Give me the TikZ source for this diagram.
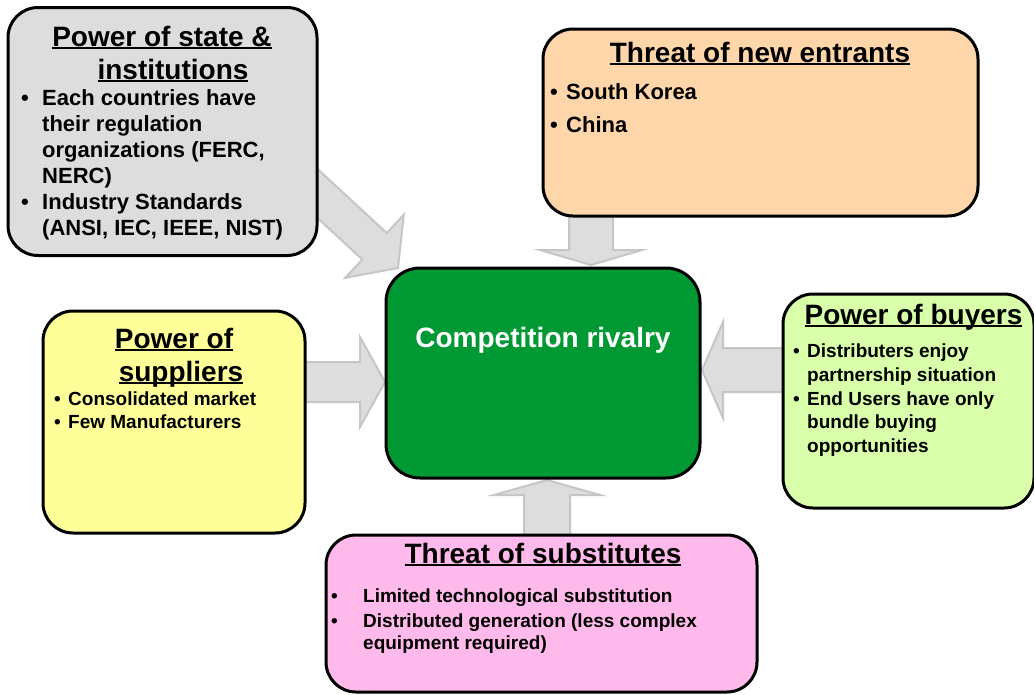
\documentclass[tikz,border=0pt]{standalone}
\usepackage{fontspec}
\setmainfont{Liberation Sans}
\usetikzlibrary{calc}
\definecolor{stategray}{HTML}{DDDDDD}
\definecolor{peach}{HTML}{FFD5AA}
\definecolor{lyellow}{HTML}{FFFF99}
\definecolor{lgreen}{HTML}{D9FFAA}
\definecolor{lpink}{HTML}{FFB9EA}
\definecolor{dgreen}{HTML}{009933}
\definecolor{arrowfill}{HTML}{DDDDDD}
\definecolor{arrowline}{HTML}{C6C6C6}
\newcommand\ulin[1]{\setbox0\hbox{#1}\rlap{\rule[-3.4pt]{\wd0}{2.2pt}}\box0}
\newcommand\blockarrow[6]{%
  \coordinate (#1b) at ($(#3)!#6!(#2)$);
  \draw[flow] ($(#2)!#4!90:(#3)$) -- ($(#1b)!#4!90:(#3)$) -- ($(#1b)!#5!90:(#3)$) -- (#3)
    -- ($(#1b)!#5!-90:(#3)$) -- ($(#1b)!#4!-90:(#3)$) -- ($(#2)!#4!-90:(#3)$) -- cycle;}
\begin{document}
\begin{tikzpicture}[x=1pt,y=-1pt,
  box/.style={draw=black, line width=3pt, rounded corners=30pt, inner sep=0pt},
  flow/.style={fill=arrowfill, draw=arrowline, line width=2pt, line join=miter},
  title/.style={font=\fontsize{28}{33}\selectfont\bfseries, inner sep=0pt, anchor=base},
  bodyL/.style={font=\fontsize{22}{26}\selectfont\bfseries, inner sep=0pt, anchor=base west},
  bodyS/.style={font=\fontsize{19}{22}\selectfont\bfseries, inner sep=0pt, anchor=base west}]
\clip (0,0) rectangle (1034,694);
\fill[white] (0,0) rectangle (1034,694);

% arrow end points
\coordinate (aS) at (290,168);  \coordinate (aT) at (398,268);
\coordinate (bS) at (591,200);  \coordinate (bT) at (591,265);
\coordinate (cS) at (290,382);  \coordinate (cT) at (385,382);
\coordinate (dS) at (800,370);  \coordinate (dT) at (702,370);
\coordinate (eS) at (547,550);  \coordinate (eT) at (547,480);

% block arrows
\blockarrow{a}{aS}{aT}{18pt}{43pt}{32pt}
\blockarrow{b}{bS}{bT}{22pt}{51pt}{15pt}
\blockarrow{c}{cS}{cT}{20pt}{45pt}{25pt}
\blockarrow{d}{dS}{dT}{22pt}{48pt}{21pt}
\blockarrow{e}{eS}{eT}{23pt}{53pt}{15pt}

% boxes
\node[box, fill=stategray, minimum width=309pt, minimum height=248pt] (state) at (162.5,131.5) {};
\node[box, fill=peach, minimum width=435pt, minimum height=187pt] (entr) at (760.5,122.5) {};
\node[box, fill=dgreen, minimum width=314pt, minimum height=210pt, rounded corners=34pt] (comp) at (543,373) {};
\node[box, fill=lyellow, minimum width=262pt, minimum height=222pt] (supp) at (174,422) {};
\node[box, fill=lgreen, minimum width=251pt, minimum height=214pt] (buy) at (908.5,401) {};
\node[box, fill=lpink, minimum width=431pt, minimum height=157pt] (subs) at (541.5,613.5) {};

% titles
\node[title] (t1a) at (162,46) {\ulin{Power of state \&}};
\node[title] (t1b) at (173,79) {\ulin{institutions}};
\node[title] (t2) at (760,62) {\ulin{Threat of new entrants}};
\node[title] (t3a) at (174,348) {\ulin{Power of}};
\node[title] (t3b) at (181,381) {\ulin{suppliers}};
\node[title] (t4) at (913.5,324) {\ulin{Power of buyers}};
\node[title] (t5) at (543,563) {\ulin{Threat of substitutes}};
\node[title, text=white] (t6) at (543,347) {Competition rivalry};

% state body
\node[bodyL] (sb1) at (21,105.7) {•};
\node[bodyL] (s1) at (42,105.7) {Each countries have};
\node[bodyL] (s2) at (42,131.7) {their regulation};
\node[bodyL] (s3) at (42,157.7) {organizations (FERC,};
\node[bodyL] (s4) at (42,183.5) {NERC)};
\node[bodyL] (sb2) at (21,209.3) {•};
\node[bodyL] (s5) at (42,209.3) {Industry Standards};
\node[bodyL] (s6) at (42,235) {(ANSI, IEC, IEEE, NIST)};

% entrants body
\node[bodyL] (nb1) at (550,99) {•};
\node[bodyL] (n1) at (566,99) {South Korea};
\node[bodyL] (nb2) at (550,132) {•};
\node[bodyL] (n2) at (566,132) {China};

% suppliers body
\node[bodyS] (pb1) at (54,405) {•};
\node[bodyS] (p1) at (68,405) {Consolidated market};
\node[bodyS] (pb2) at (54,428) {•};
\node[bodyS] (p2) at (68,428) {Few Manufacturers};

% buyers body
\node[bodyS] (bb1) at (793,357) {•};
\node[bodyS] (b1) at (807,357) {Distributers enjoy};
\node[bodyS] (b2) at (807,381) {partnership situation};
\node[bodyS] (bb2) at (793,405) {•};
\node[bodyS] (b3) at (807,405) {End Users have only};
\node[bodyS] (b4) at (807,428) {bundle buying};
\node[bodyS] (b5) at (807,452) {opportunities};

% substitutes body
\node[bodyS] (ub1) at (331,602) {•};
\node[bodyS] (u1) at (363,602) {Limited technological substitution};
\node[bodyS] (ub2) at (331,627) {•};
\node[bodyS] (u2) at (363,627) {Distributed generation (less complex};
\node[bodyS] (u3) at (363,649) {equipment required)};
\end{tikzpicture}
\end{document}
